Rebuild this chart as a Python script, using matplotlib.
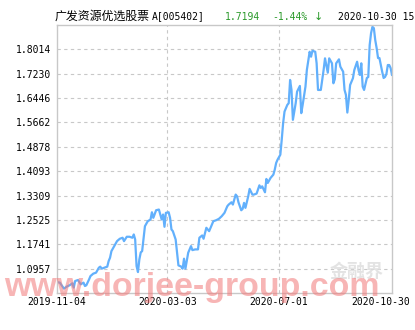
import matplotlib
matplotlib.use("Agg")
import matplotlib.pyplot as plt
import matplotlib.transforms as mtransforms

# trading-day index (0 = 2019-11-04, 240 = 2020-10-30) and unit NAV
day_idx = [0, 2, 5, 7, 9, 11, 12, 13, 15, 17, 19, 20, 21, 23, 24, 26, 28, 30, 31, 32,
           34, 36, 37, 38, 39, 41, 43, 45, 47, 48, 50, 52, 54, 55, 56, 57, 58, 59, 60, 61,
           63, 65, 67, 68, 69, 71, 73, 74, 75, 76, 77, 78, 80, 81, 82, 83, 85, 86, 87, 89,
           90, 91, 92, 94, 96, 97, 99, 101, 102, 104, 105, 107, 109, 111, 112, 114, 116, 118, 120, 122,
           123, 125, 126, 128, 129, 130, 132, 133, 134, 135, 137, 138, 140, 141, 143, 145, 146, 147, 149, 150,
           151, 153, 155, 156, 157, 158, 160, 161, 162, 163, 165, 166, 167, 168, 169, 171, 172, 174, 175, 176,
           178, 179, 181, 182, 183, 185, 186, 187, 189, 191, 192, 194, 195, 197, 198, 199, 200, 202, 203, 205,
           206, 207, 208, 209, 210, 212, 213, 215, 216, 217, 218, 219, 220, 222, 223, 224, 225, 226, 227, 228,
           229, 230, 231, 232, 233, 234, 235, 236, 237, 238, 239, 240]
nav = [1.0526, 1.0507, 1.0315, 1.0379, 1.0421, 1.0485, 1.0347, 1.0558, 1.0591, 1.0453,
       1.0507, 1.0398, 1.0421, 1.0613, 1.0719, 1.0796, 1.0828, 1.0988, 1.1021, 1.0956,
       1.0988, 1.1021, 1.1200, 1.1309, 1.1521, 1.1681, 1.1842, 1.1919, 1.1951, 1.1842,
       1.1983, 1.1983, 1.1951, 1.2057, 1.1896, 1.1040, 1.0847, 1.1255, 1.1479, 1.1521,
       1.2323, 1.2483, 1.2538, 1.2772, 1.2592, 1.2836, 1.2859, 1.2698, 1.2538, 1.2698,
       1.2304, 1.2753, 1.2772, 1.2592, 1.2217, 1.2163, 1.1896, 1.1470, 1.1062, 1.1021,
       1.0956, 1.1277, 1.0956, 1.1470, 1.1681, 1.1553, 1.1576, 1.1576, 1.1951, 1.2025,
       1.1919, 1.2272, 1.2163, 1.2377, 1.2483, 1.2515, 1.2560, 1.2644, 1.2753, 1.2965,
       1.3019, 1.3093, 1.3019, 1.3340, 1.3285, 1.3093, 1.2836, 1.2881, 1.3074, 1.2913,
       1.3285, 1.3523, 1.3340, 1.3340, 1.3372, 1.3638, 1.3555, 1.3606, 1.3414, 1.3844,
       1.3715, 1.3876, 1.3982, 1.4142, 1.4357, 1.4463, 1.4623, 1.5104, 1.5640, 1.6012,
       1.6227, 1.6282, 1.7029, 1.6708, 1.5746, 1.6282, 1.6654, 1.6837, 1.5961, 1.6227,
       1.6814, 1.7350, 1.7937, 1.7777, 1.7969, 1.7937, 1.7565, 1.6708, 1.6708, 1.7350,
       1.7725, 1.7263, 1.7725, 1.7565, 1.6923, 1.7052, 1.7565, 1.7693, 1.7456, 1.7295,
       1.6708, 1.6548, 1.5980, 1.6388, 1.6869, 1.7084, 1.7350, 1.7616, 1.7350, 1.7190,
       1.7565, 1.6814, 1.6708, 1.7093, 1.7125, 1.8152, 1.8537, 1.8739, 1.8697, 1.8312,
       1.8056, 1.7735, 1.7735, 1.7510, 1.7286, 1.7093, 1.7125, 1.7222, 1.7510, 1.7510,
       1.7414, 1.7194]

y_ticks = [1.0957, 1.1741, 1.2525, 1.3309, 1.4093, 1.4878, 1.5662, 1.6446, 1.7230, 1.8014]
y_labels = ["1.0957", "1.1741", "1.2525", "1.3309", "1.4093", "1.4878", "1.5662", "1.6446", "1.7230", "1.8014"]
x_ticks = [0, 79, 159, 240]
x_labels = ["2019-11-04", "2020-03-03", "2020-07-01", "2020-10-30"]

fund_name = "广发资源优选股票"
fund_code = "A[005402]"
last_nav = "1.7194"
last_chg = "-1.44%"
last_time = "2020-10-30 15:00"

W, H = 415, 330
fig = plt.figure(figsize=(W / 100, H / 100), dpi=100)
ax = fig.add_axes([57 / W, 1 - 293 / H, 335 / W, 268 / H])

grey = "#c8c8c8"
green = "#2a992a"
ax.plot(day_idx, nav, color="#62b0fc", lw=1.6, solid_joinstyle="round")
ax.set_xlim(0, 240)
ax.set_ylim(1.0173, 1.8798)

ax.set_yticks(y_ticks)
ax.set_yticklabels(y_labels, family="DejaVu Sans Mono", fontsize=7)
ax.set_xticks(x_ticks[1:-1])
ax.set_xticklabels([])
ax.tick_params(length=0, pad=4)
ax.grid(True, color=grey, lw=0.8, linestyle=(0, (3, 3)))
for s in ax.spines.values():
    s.set_color(grey)
    s.set_linewidth(1)

# x labels drawn by hand so the last one stays inside the picture
bt = mtransforms.blended_transform_factory(ax.transData, fig.transFigure)
for i, (x, lab) in enumerate(zip(x_ticks, x_labels)):
    tr = bt
    if i == len(x_ticks) - 1:
        tr = bt + mtransforms.ScaledTranslation(-0.11, 0, fig.dpi_scale_trans)
    ax.text(x, 1 - 302 / H, lab, transform=tr, ha="center", va="center",
            family="DejaVu Sans Mono", fontsize=7, clip_on=False)

# title line
ty = 1 - 16.5 / H
fig.text(55 / W, ty, fund_name, family="Noto Sans CJK SC", fontsize=8.6, va="center")
fig.text(152 / W, ty, fund_code, family="DejaVu Sans Mono", fontsize=7, va="center")
fig.text(225 / W, ty, last_nav, family="DejaVu Sans Mono", fontsize=7, va="center", color=green)
fig.text(272 / W, ty, last_chg, family="DejaVu Sans Mono", fontsize=7, va="center", color=green)
fig.text(314 / W, ty, "↓", family="DejaVu Sans", fontsize=8, va="center", color=green)
fig.text(338 / W, ty, last_time, family="DejaVu Sans Mono", fontsize=7, va="center")

# watermarks
fig.text(330 / W, 1 - 271 / H, "金融界", family="Noto Sans CJK SC", fontsize=13,
         weight="bold", color="#dddddd", va="center", alpha=0.8)
fig.text(4 / W, 1 - 296 / H, "www.dorjee-group.com", family="Liberation Sans",
         fontsize=24.4, weight="bold", color="#f27878", alpha=0.55, va="baseline")

fig.savefig("out.png", dpi=100)
